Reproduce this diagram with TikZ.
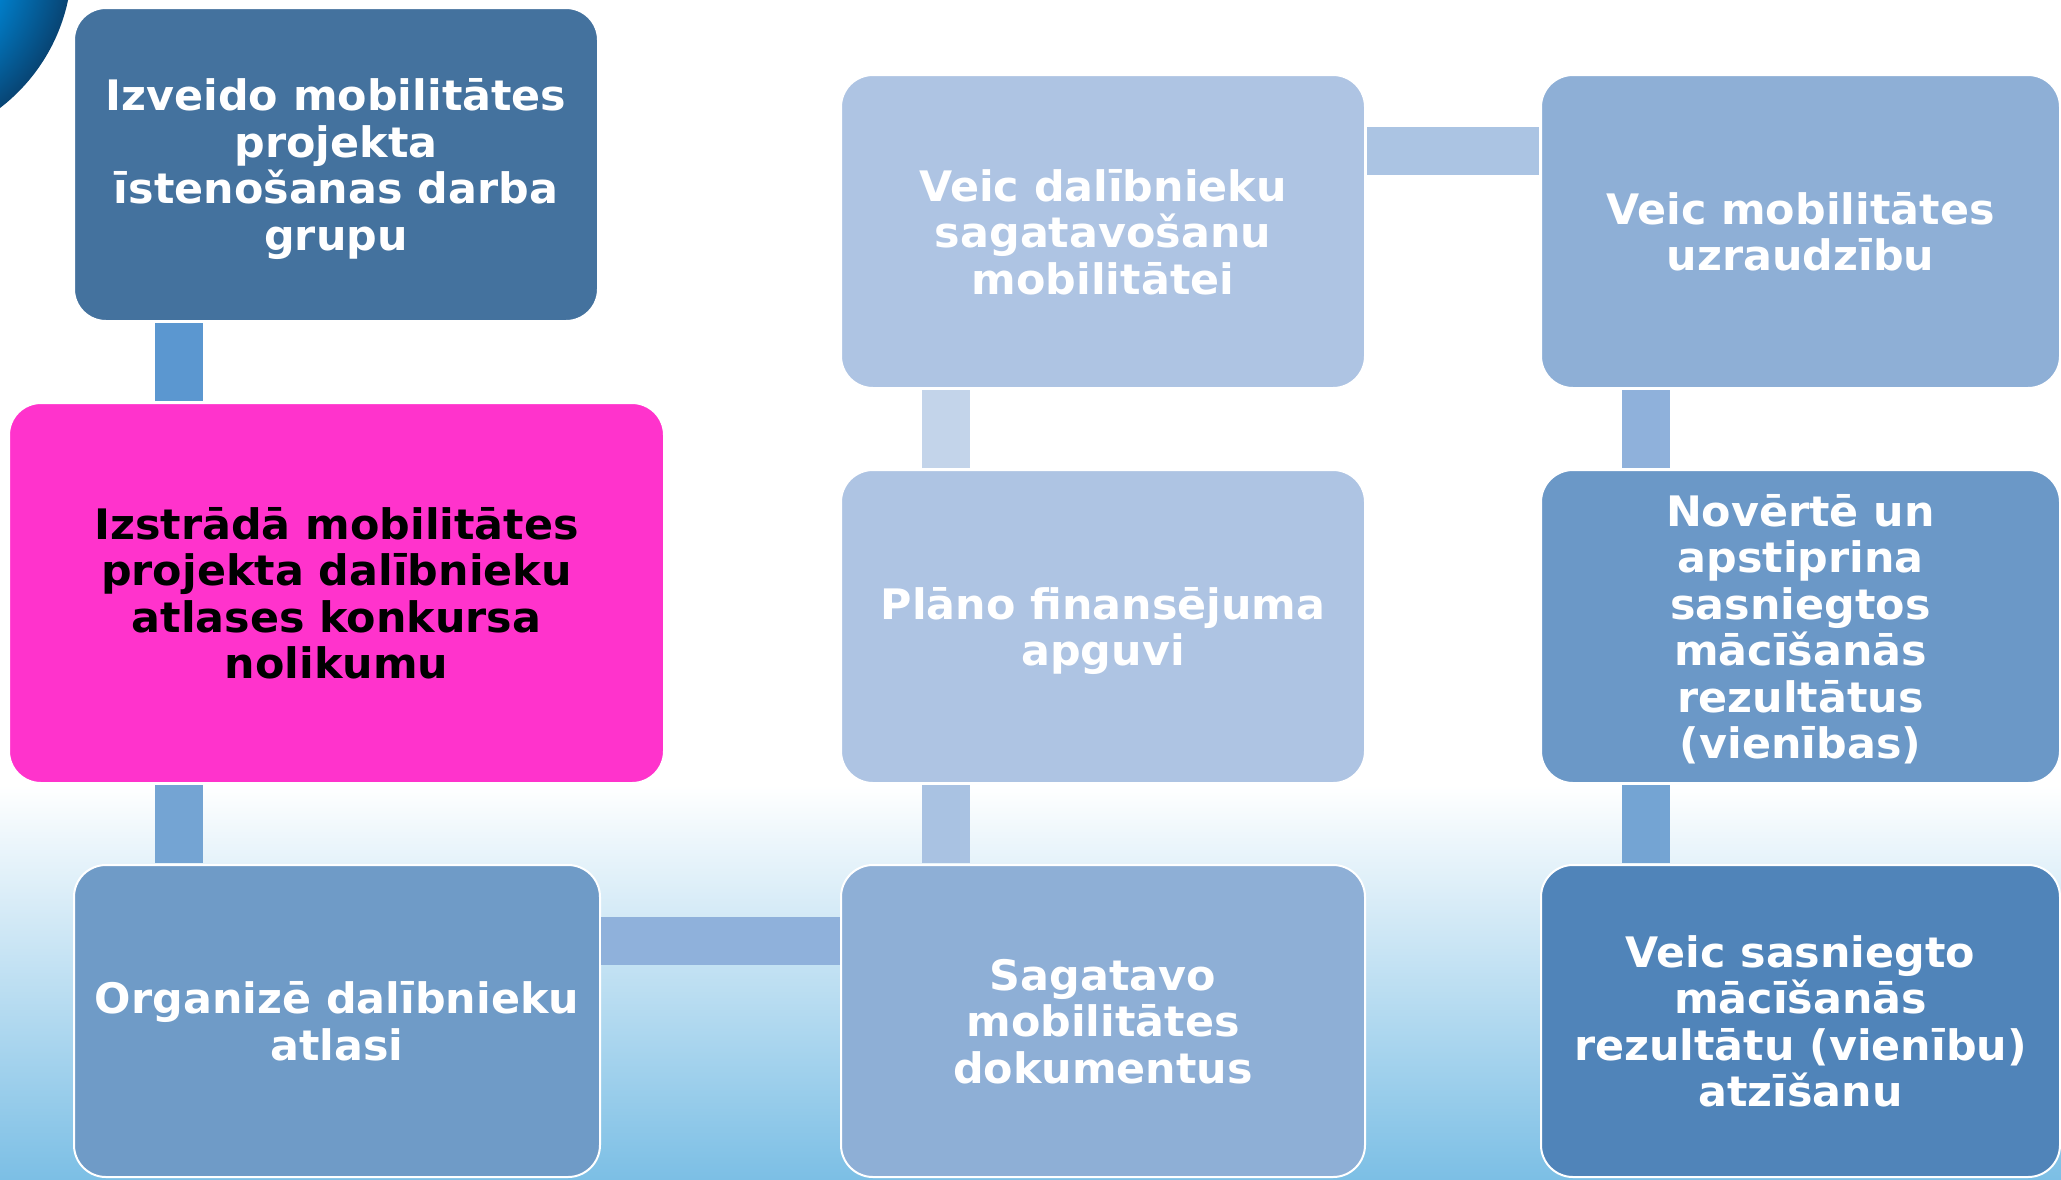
\documentclass[tikz,border=0pt]{standalone}
\usepackage{fontspec}
\setmainfont{DejaVu Sans}[FakeStretch=1.02]
\definecolor{bgb}{HTML}{7CBFE5}
\definecolor{sphA}{RGB}{0,145,220}
\definecolor{sphB}{RGB}{0,125,200}
\definecolor{sphC}{RGB}{8,68,115}
\definecolor{bxA}{HTML}{44729E}
\definecolor{bxPink}{HTML}{FF33CC}
\definecolor{bxC}{HTML}{6F9BC7}
\definecolor{bxD}{HTML}{AEC4E3}
\definecolor{bxE}{HTML}{8EAFD6}
\definecolor{bxF}{HTML}{6B98C7}
\definecolor{bxG}{HTML}{5084B9}
\definecolor{cnA}{HTML}{5B97D0}
\definecolor{cnB}{HTML}{74A4D3}
\definecolor{cnC}{HTML}{8FB1DB}
\definecolor{cnD}{HTML}{A9C2E2}
\definecolor{cnE}{HTML}{C3D4EA}
\definecolor{cnF}{HTML}{ABC4E3}
\pgfdeclareradialshading{sphere}{\pgfpoint{0bp}{0bp}}{color(0bp)=(sphA); color(16bp)=(sphB); color(25bp)=(sphC); color(50bp)=(sphC)}
\begin{document}
\begin{tikzpicture}[x=1pt,y=-1pt,
  box/.style={draw=white, line width=2pt, rounded corners=32pt, inner sep=0pt,
    align=center, text=white, font=\fontsize{42}{46.5}\selectfont\bfseries,
    text depth=0pt, minimum width=524pt, minimum height=313pt},
  bar/.style={line width=48pt, line cap=butt}]
\useasboundingbox (0,0) rectangle (2061,1179);
\clip (0,0) rectangle (2061,1179);
\fill[white] (0,0) rectangle (2061,1179);
\shade[top color=white, bottom color=bgb] (0,785) rectangle (2061,1179);
\shade[shading=sphere] (-112,-38) circle (184);

\node[box, fill=bxA] (b1) at (336,164.5) {Izveido mobilitātes\\projekta\\īstenošanas darba\\grupu};
\node[box, fill=bxPink, text=black, minimum width=655pt, minimum height=380pt] (b2) at (336.5,593) {Izstrādā mobilitātes\\projekta dalībnieku\\atlases konkursa\\nolikumu};
\node[box, fill=bxC, minimum width=526pt, minimum height=312pt] (b3) at (337,1021) {Organizē dalībnieku\\atlasi};
\node[box, fill=bxD] (b4) at (1103,231.5) {Veic dalībnieku\\sagatavošanu\\mobilitātei};
\node[box, fill=bxD] (b5) at (1103,626.5) {Plāno finansējuma\\apguvi};
\node[box, fill=bxE, minimum height=312pt] (b6) at (1103,1021) {Sagatavo\\mobilitātes\\dokumentus};
\node[box, fill=bxE, minimum width=519pt] (b7) at (1800.5,231.5) {Veic mobilitātes\\uzraudzību};
\node[box, fill=bxF, minimum width=519pt] (b8) at (1800.5,626.5) {Novērtē un\\apstiprina\\sasniegtos\\mācīšanās\\rezultātus\\(vienības)};
\node[box, fill=bxG, minimum width=519pt, minimum height=312pt] (b9) at (1800.5,1021) {Veic sasniegto\\mācīšanās\\rezultātu (vienību)\\atzīšanu};

\coordinate (cx1) at (179,0);
\coordinate (cx2) at (946,0);
\coordinate (cx3) at (1646,0);
\coordinate (ry1) at (0,151);
\coordinate (ry3) at (0,941);

\draw[bar, draw=cnA, shorten <=1pt, shorten >=1pt] (b1.south -| cx1) -- (b2.north -| cx1);
\draw[bar, draw=cnB, shorten <=1pt, shorten >=1pt] (b2.south -| cx1) -- (b3.north -| cx1);
\draw[bar, draw=cnC] (b3.east |- ry3) -- (b6.west |- ry3);
\draw[bar, draw=cnD, shorten <=1pt, shorten >=1pt] (b6.north -| cx2) -- (b5.south -| cx2);
\draw[bar, draw=cnE, shorten <=1pt, shorten >=1pt] (b5.north -| cx2) -- (b4.south -| cx2);
\draw[bar, draw=cnF, shorten <=1pt, shorten >=1pt] (b4.east |- ry1) -- (b7.west |- ry1);
\draw[bar, draw=cnC, shorten <=1pt, shorten >=1pt] (b7.south -| cx3) -- (b8.north -| cx3);
\draw[bar, draw=cnB, shorten <=1pt, shorten >=1pt] (b8.south -| cx3) -- (b9.north -| cx3);
\end{tikzpicture}
\end{document}
